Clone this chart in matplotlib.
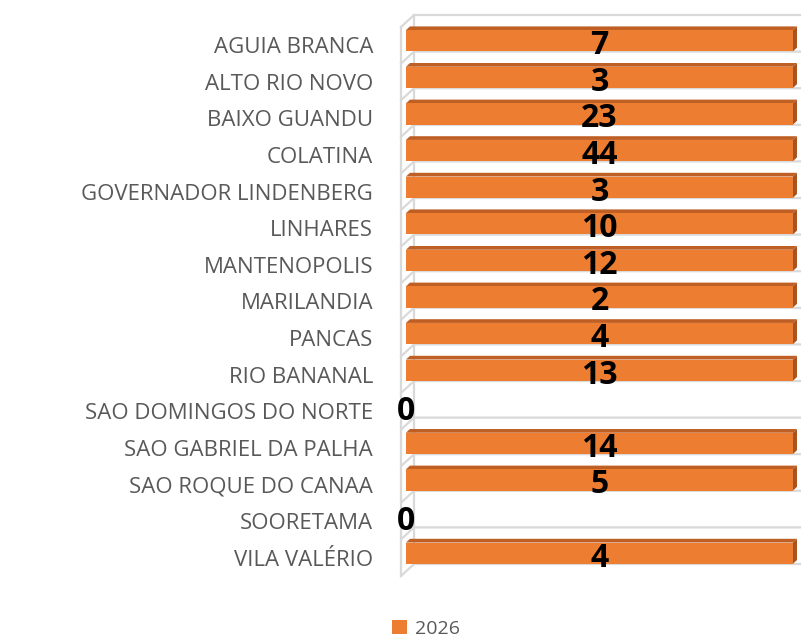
import matplotlib
matplotlib.use("Agg")
import matplotlib.pyplot as plt
from matplotlib.patches import Polygon, Patch
from matplotlib.transforms import IdentityTransform, ScaledTranslation
from matplotlib.lines import Line2D

# ---------------- data ----------------
categories = [
    "AGUIA BRANCA", "ALTO RIO NOVO", "BAIXO GUANDU", "COLATINA",
    "GOVERNADOR LINDENBERG", "LINHARES", "MANTENOPOLIS", "MARILANDIA",
    "PANCAS", "RIO BANANAL", "SAO DOMINGOS DO NORTE", "SAO GABRIEL DA PALHA",
    "SAO ROQUE DO CANAA", "SOORETAMA", "VILA VALÉRIO",
]
values_2026 = [7, 3, 23, 44, 3, 10, 12, 2, 4, 13, 0, 14, 5, 0, 4]
series_name = "2026"

# 100% stacked bar: share of each category total (single series)
totals = list(values_2026)
shares = [100.0 * v / t if t else 0.0 for v, t in zip(values_2026, totals)]

# ---------------- style ----------------
FRONT = "#ED7D31"
TOP = "#BF5F24"
SIDE = "#A9521C"
GRID = "#D9D9D9"
TXT = "#595959"

W, H = 801, 638
fig = plt.figure(figsize=(W / 100, H / 100), dpi=100)
fig.patch.set_facecolor("white")

# front plane of the 3-D box
ax = fig.add_axes([401 / W, 1 - 576 / H, (788 - 401) / W, (576 - 27) / H])
n = len(categories)
ax.set_xlim(0, 100)
ax.set_ylim(n - 0.5, -0.5)
for s in ax.spines.values():
    s.set_visible(False)
ax.set_xticks([])
ax.patch.set_alpha(0)

# depth vector (display pixels, y up) of the full box depth
DX, DY = 13.0, 12.0
D_FRONT, D_BACK = 0.38, 0.69
IDT = IdentityTransform()


def off(depth, extra_dy=0.0):
    return ax.transData + ScaledTranslation(depth * DX / 100,
                                            (depth * DY + extra_dy) / 100,
                                            fig.dpi_scale_trans)


def disp(x, y, depth):
    px, py = ax.transData.transform((x, y))
    return (px + depth * DX, py + depth * DY)


# walls / gridlines
ypos = list(range(n))
bounds = [i - 0.5 for i in range(n + 1)]
for b in bounds:
    p0 = disp(0, b, 0)
    p1 = disp(0, b, 1)
    p2 = disp(100, b, 1)
    ax.add_artist(Line2D([p0[0], p1[0], p2[0]], [p0[1], p1[1], p2[1]],
                         transform=IDT, color=GRID, lw=1.6, zorder=1,
                         clip_on=False))
for dpt in (0, 1):
    a = disp(0, bounds[0], dpt)
    c = disp(0, bounds[-1], dpt)
    ax.add_artist(Line2D([a[0], c[0]], [a[1], c[1]], transform=IDT,
                         color=GRID, lw=1.6, zorder=1, clip_on=False))

# bars (front faces)
bar_h = 0.58
bars = ax.barh(ypos, shares, height=bar_h, color=FRONT, zorder=3)
for p in bars.patches:
    p.set_transform(off(D_FRONT))
    p.set_clip_on(False)

# top and side faces
for yi, w in zip(ypos, shares):
    if w <= 0:
        continue
    yt = yi - bar_h / 2
    yb = yi + bar_h / 2
    top = [disp(0, yt, D_FRONT), disp(w, yt, D_FRONT),
           disp(w, yt, D_BACK), disp(0, yt, D_BACK)]
    side = [disp(w, yt, D_FRONT), disp(w, yt, D_BACK),
            disp(w, yb, D_BACK), disp(w, yb, D_FRONT)]
    ax.add_patch(Polygon(top, closed=True, transform=IDT, facecolor=TOP,
                         edgecolor="none", zorder=2.5, clip_on=False))
    ax.add_patch(Polygon(side, closed=True, transform=IDT, facecolor=SIDE,
                         edgecolor="none", zorder=2.5, clip_on=False))

# data labels
for yi, w, v in zip(ypos, shares, values_2026):
    ax.text(w / 2, yi, f"{v}", transform=off(D_FRONT, -5.0),
            ha="center", va="center", fontsize=23, fontweight="bold",
            family=["Open Sans", "DejaVu Sans"], color="black", zorder=5,
            clip_on=False)

# category labels
ax.set_yticks(ypos)
ax.set_yticklabels(categories, family=["Open Sans", "DejaVu Sans"], fontsize=16,
                   color=TXT)
ax.tick_params(axis="y", length=0, pad=20)

# legend
handle = Patch(facecolor=FRONT, edgecolor="none")
leg = fig.legend([handle], [series_name], loc="center",
                 bbox_to_anchor=(0.532, 0.014), frameon=False,
                 handlelength=0.75, handleheight=0.75, handletextpad=0.4,
                 prop={"family": ["Open Sans", "DejaVu Sans"], "size": 14})
for t in leg.get_texts():
    t.set_color(TXT)

fig.savefig("out.png", dpi=100, facecolor="white")
